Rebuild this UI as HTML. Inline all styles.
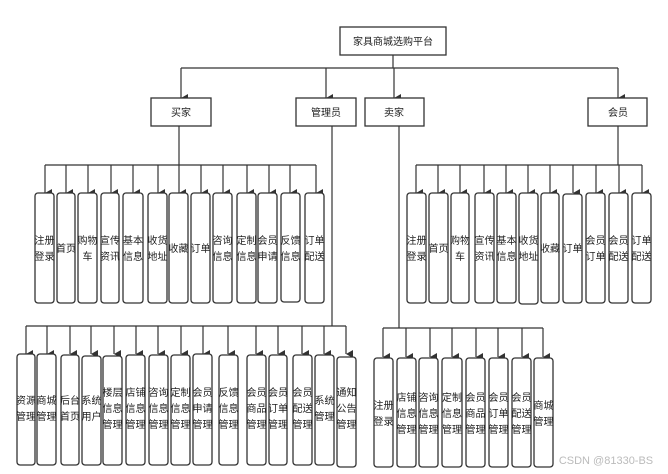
<!DOCTYPE html>
<html><head><meta charset="utf-8"><style>
html,body{margin:0;padding:0;background:#fff;}
svg{display:block;}
text{font-family:"Liberation Sans","Noto Sans CJK SC",sans-serif;font-size:10px;fill:#222;text-anchor:middle;}
rect{fill:#fff;stroke:#333;stroke-width:1.3;}
line,polyline{stroke:#333;stroke-width:1.2;fill:none;}
</style></head><body>
<svg width="668" height="474" viewBox="0 0 668 474" xmlns="http://www.w3.org/2000/svg">
<defs><marker id="a" markerWidth="8" markerHeight="8" refX="4" refY="7" orient="auto" markerUnits="userSpaceOnUse"><path d="M0,0 L4,7 L8,0 Z" fill="#333"/></marker></defs>
<!-- root -->
<rect x="340" y="27" width="106" height="28" rx="0"/>
<text x="393" y="45">家具商城选购平台</text>
<line x1="393" y1="55" x2="393" y2="68"/>
<line x1="181" y1="68" x2="618" y2="68"/>
<line x1="181" y1="68" x2="181" y2="98" marker-end="url(#a)"/>
<line x1="326" y1="68" x2="326" y2="98" marker-end="url(#a)"/>
<line x1="394" y1="68" x2="394" y2="98" marker-end="url(#a)"/>
<line x1="618" y1="68" x2="618" y2="98" marker-end="url(#a)"/>
<rect x="151" y="98" width="60" height="28"/><text x="181" y="116">买家</text>
<rect x="296" y="98" width="60" height="28"/><text x="326" y="116">管理员</text>
<rect x="365" y="98" width="59" height="28"/><text x="394" y="116">卖家</text>
<rect x="588" y="98" width="59" height="28"/><text x="618" y="116">会员</text>

<!-- 买家 children -->
<line x1="179" y1="126" x2="179" y2="165"/>
<line x1="45" y1="165" x2="316" y2="165"/>
<g>
<line x1="45" y1="165" x2="45" y2="193" marker-end="url(#a)"/>
<line x1="66" y1="165" x2="66" y2="193" marker-end="url(#a)"/>
<line x1="88" y1="165" x2="88" y2="193" marker-end="url(#a)"/>
<line x1="111" y1="165" x2="111" y2="193" marker-end="url(#a)"/>
<line x1="133" y1="165" x2="133" y2="193" marker-end="url(#a)"/>
<line x1="158" y1="165" x2="158" y2="193" marker-end="url(#a)"/>
<line x1="179" y1="165" x2="179" y2="193" marker-end="url(#a)"/>
<line x1="201" y1="165" x2="201" y2="193" marker-end="url(#a)"/>
<line x1="223" y1="165" x2="223" y2="193" marker-end="url(#a)"/>
<line x1="247" y1="165" x2="247" y2="193" marker-end="url(#a)"/>
<line x1="269" y1="165" x2="269" y2="193" marker-end="url(#a)"/>
<line x1="290" y1="165" x2="290" y2="193" marker-end="url(#a)"/>
<line x1="316" y1="165" x2="316" y2="193" marker-end="url(#a)"/>
</g>
<rect x="35" y="193" width="19" height="110" rx="3"/><text x="44.5" y="244">注册</text><text x="44.5" y="260">登录</text>
<rect x="57" y="193" width="18" height="110" rx="3"/><text x="66" y="252">首页</text>
<rect x="78" y="193" width="19" height="110" rx="3"/><text x="87.5" y="244">购物</text><text x="87.5" y="260">车</text>
<rect x="101" y="193" width="18" height="110" rx="3"/><text x="110" y="244">宣传</text><text x="110" y="260">资讯</text>
<rect x="123" y="193" width="20" height="110" rx="3"/><text x="133" y="244">基本</text><text x="133" y="260">信息</text>
<rect x="148" y="193" width="19" height="110" rx="3"/><text x="157.5" y="244">收货</text><text x="157.5" y="260">地址</text>
<rect x="169" y="193" width="19" height="110" rx="3"/><text x="178.5" y="252">收藏</text>
<rect x="191" y="193" width="19" height="110" rx="3"/><text x="200.5" y="252">订单</text>
<rect x="213" y="193" width="19" height="110" rx="3"/><text x="222.5" y="244">咨询</text><text x="222.5" y="260">信息</text>
<rect x="237" y="193" width="19" height="110" rx="3"/><text x="246.5" y="244">定制</text><text x="246.5" y="260">信息</text>
<rect x="258" y="193" width="19" height="110" rx="3"/><text x="267.5" y="244">会员</text><text x="267.5" y="260">申请</text>
<rect x="281" y="193" width="19" height="109" rx="3"/><text x="290.5" y="244">反馈</text><text x="290.5" y="260">信息</text>
<rect x="305" y="193" width="19" height="110" rx="3"/><text x="314.5" y="244">订单</text><text x="314.5" y="260">配送</text>

<!-- 会员 children -->
<line x1="618" y1="126" x2="618" y2="165"/>
<line x1="416" y1="165" x2="642" y2="165"/>
<line x1="416" y1="165" x2="416" y2="193" marker-end="url(#a)"/>
<line x1="438" y1="165" x2="438" y2="193" marker-end="url(#a)"/>
<line x1="460" y1="165" x2="460" y2="193" marker-end="url(#a)"/>
<line x1="484" y1="165" x2="484" y2="193" marker-end="url(#a)"/>
<line x1="506" y1="165" x2="506" y2="193" marker-end="url(#a)"/>
<line x1="528" y1="165" x2="528" y2="193" marker-end="url(#a)"/>
<line x1="550" y1="165" x2="550" y2="193" marker-end="url(#a)"/>
<line x1="573" y1="165" x2="573" y2="193" marker-end="url(#a)"/>
<line x1="596" y1="165" x2="596" y2="193" marker-end="url(#a)"/>
<line x1="619" y1="165" x2="619" y2="193" marker-end="url(#a)"/>
<line x1="642" y1="165" x2="642" y2="193" marker-end="url(#a)"/>
<rect x="407" y="193" width="19" height="110" rx="3"/><text x="416.5" y="244">注册</text><text x="416.5" y="260">登录</text>
<rect x="429" y="193" width="19" height="110" rx="3"/><text x="438.5" y="252">首页</text>
<rect x="451" y="193" width="18" height="110" rx="3"/><text x="460" y="244">购物</text><text x="460" y="260">车</text>
<rect x="475" y="193" width="19" height="110" rx="3"/><text x="484.5" y="244">宣传</text><text x="484.5" y="260">资讯</text>
<rect x="497" y="193" width="19" height="110" rx="3"/><text x="506.5" y="244">基本</text><text x="506.5" y="260">信息</text>
<rect x="519" y="193" width="19" height="111" rx="3"/><text x="528.5" y="244">收货</text><text x="528.5" y="260">地址</text>
<rect x="541" y="193" width="18" height="110" rx="3"/><text x="550" y="252">收藏</text>
<rect x="563" y="194" width="19" height="109" rx="3"/><text x="572.5" y="252">订单</text>
<rect x="586" y="193" width="19" height="110" rx="3"/><text x="595.5" y="244">会员</text><text x="595.5" y="260">订单</text>
<rect x="609" y="193" width="19" height="110" rx="3"/><text x="618.5" y="244">会员</text><text x="618.5" y="260">配送</text>
<rect x="632" y="193" width="19" height="110" rx="3"/><text x="641.5" y="244">订单</text><text x="641.5" y="260">配送</text>

<!-- 管理员 children -->
<line x1="332" y1="126" x2="332" y2="326"/>
<line x1="26" y1="326" x2="346" y2="326"/>
<line x1="26" y1="326" x2="26" y2="354" marker-end="url(#a)"/>
<line x1="47" y1="326" x2="47" y2="354" marker-end="url(#a)"/>
<line x1="70" y1="326" x2="70" y2="354" marker-end="url(#a)"/>
<line x1="91" y1="326" x2="91" y2="354" marker-end="url(#a)"/>
<line x1="114" y1="326" x2="114" y2="354" marker-end="url(#a)"/>
<line x1="136" y1="326" x2="136" y2="354" marker-end="url(#a)"/>
<line x1="158" y1="326" x2="158" y2="354" marker-end="url(#a)"/>
<line x1="181" y1="326" x2="181" y2="354" marker-end="url(#a)"/>
<line x1="203" y1="326" x2="203" y2="354" marker-end="url(#a)"/>
<line x1="228" y1="326" x2="228" y2="354" marker-end="url(#a)"/>
<line x1="256" y1="326" x2="256" y2="354" marker-end="url(#a)"/>
<line x1="278" y1="326" x2="278" y2="354" marker-end="url(#a)"/>
<line x1="302" y1="326" x2="302" y2="354" marker-end="url(#a)"/>
<line x1="324" y1="326" x2="324" y2="354" marker-end="url(#a)"/>
<line x1="346" y1="326" x2="346" y2="354" marker-end="url(#a)"/>
<rect x="17" y="354" width="18" height="111" rx="3"/><text x="26" y="404">资源</text><text x="26" y="420">管理</text>
<rect x="37" y="354" width="19" height="111" rx="3"/><text x="46.5" y="404">商城</text><text x="46.5" y="420">管理</text>
<rect x="61" y="355" width="18" height="110" rx="3"/><text x="70" y="404">后台</text><text x="70" y="420">首页</text>
<rect x="82" y="356" width="19" height="109" rx="3"/><text x="91.5" y="404">系统</text><text x="91.5" y="420">用户</text>
<rect x="103" y="356" width="19" height="109" rx="3"/><text x="112.5" y="396">楼层</text><text x="112.5" y="412">信息</text><text x="112.5" y="428">管理</text>
<rect x="126" y="355" width="19" height="110" rx="3"/><text x="135.5" y="396">店铺</text><text x="135.5" y="412">信息</text><text x="135.5" y="428">管理</text>
<rect x="149" y="355" width="19" height="110" rx="3"/><text x="158.5" y="396">咨询</text><text x="158.5" y="412">信息</text><text x="158.5" y="428">管理</text>
<rect x="171" y="355" width="19" height="110" rx="3"/><text x="180.5" y="396">定制</text><text x="180.5" y="412">信息</text><text x="180.5" y="428">管理</text>
<rect x="193" y="354" width="19" height="111" rx="3"/><text x="202.5" y="396">会员</text><text x="202.5" y="412">申请</text><text x="202.5" y="428">管理</text>
<rect x="219" y="355" width="19" height="110" rx="3"/><text x="228.5" y="396">反馈</text><text x="228.5" y="412">信息</text><text x="228.5" y="428">管理</text>
<rect x="247" y="355" width="19" height="110" rx="3"/><text x="256.5" y="396">会员</text><text x="256.5" y="412">商品</text><text x="256.5" y="428">管理</text>
<rect x="269" y="355" width="18" height="110" rx="3"/><text x="278" y="396">会员</text><text x="278" y="412">订单</text><text x="278" y="428">管理</text>
<rect x="293" y="355" width="19" height="110" rx="3"/><text x="302.5" y="396">会员</text><text x="302.5" y="412">配送</text><text x="302.5" y="428">管理</text>
<rect x="315" y="355" width="19" height="110" rx="3"/><text x="324.5" y="404">系统</text><text x="324.5" y="420">管理</text>
<rect x="337" y="357" width="19" height="110" rx="3"/><text x="346.5" y="396">通知</text><text x="346.5" y="412">公告</text><text x="346.5" y="428">管理</text>

<!-- 卖家 children -->
<line x1="399" y1="126" x2="399" y2="328"/>
<line x1="383" y1="328" x2="543" y2="328"/>
<line x1="383" y1="328" x2="383" y2="357" marker-end="url(#a)"/>
<line x1="406" y1="328" x2="406" y2="357" marker-end="url(#a)"/>
<line x1="430" y1="328" x2="430" y2="357" marker-end="url(#a)"/>
<line x1="452" y1="328" x2="452" y2="357" marker-end="url(#a)"/>
<line x1="476" y1="328" x2="476" y2="357" marker-end="url(#a)"/>
<line x1="498" y1="328" x2="498" y2="357" marker-end="url(#a)"/>
<line x1="522" y1="328" x2="522" y2="357" marker-end="url(#a)"/>
<line x1="543" y1="328" x2="543" y2="357" marker-end="url(#a)"/>
<rect x="374" y="358" width="19" height="109" rx="3"/><text x="383.5" y="409">注册</text><text x="383.5" y="425">登录</text>
<rect x="397" y="358" width="19" height="109" rx="3"/><text x="406.5" y="401">店铺</text><text x="406.5" y="417">信息</text><text x="406.5" y="433">管理</text>
<rect x="419" y="358" width="19" height="109" rx="3"/><text x="428.5" y="401">咨询</text><text x="428.5" y="417">信息</text><text x="428.5" y="433">管理</text>
<rect x="442" y="358" width="20" height="109" rx="3"/><text x="452" y="401">定制</text><text x="452" y="417">信息</text><text x="452" y="433">管理</text>
<rect x="466" y="358" width="19" height="109" rx="3"/><text x="475.5" y="401">会员</text><text x="475.5" y="417">商品</text><text x="475.5" y="433">管理</text>
<rect x="489" y="358" width="19" height="109" rx="3"/><text x="498.5" y="401">会员</text><text x="498.5" y="417">订单</text><text x="498.5" y="433">管理</text>
<rect x="512" y="358" width="19" height="109" rx="3"/><text x="521.5" y="401">会员</text><text x="521.5" y="417">配送</text><text x="521.5" y="433">管理</text>
<rect x="534" y="358" width="19" height="109" rx="3"/><text x="543.5" y="409">商城</text><text x="543.5" y="425">管理</text>

<text x="606" y="464" style="font-size:11px;fill:#bbb">CSDN @81330-BS</text>
</svg>
</body></html>
